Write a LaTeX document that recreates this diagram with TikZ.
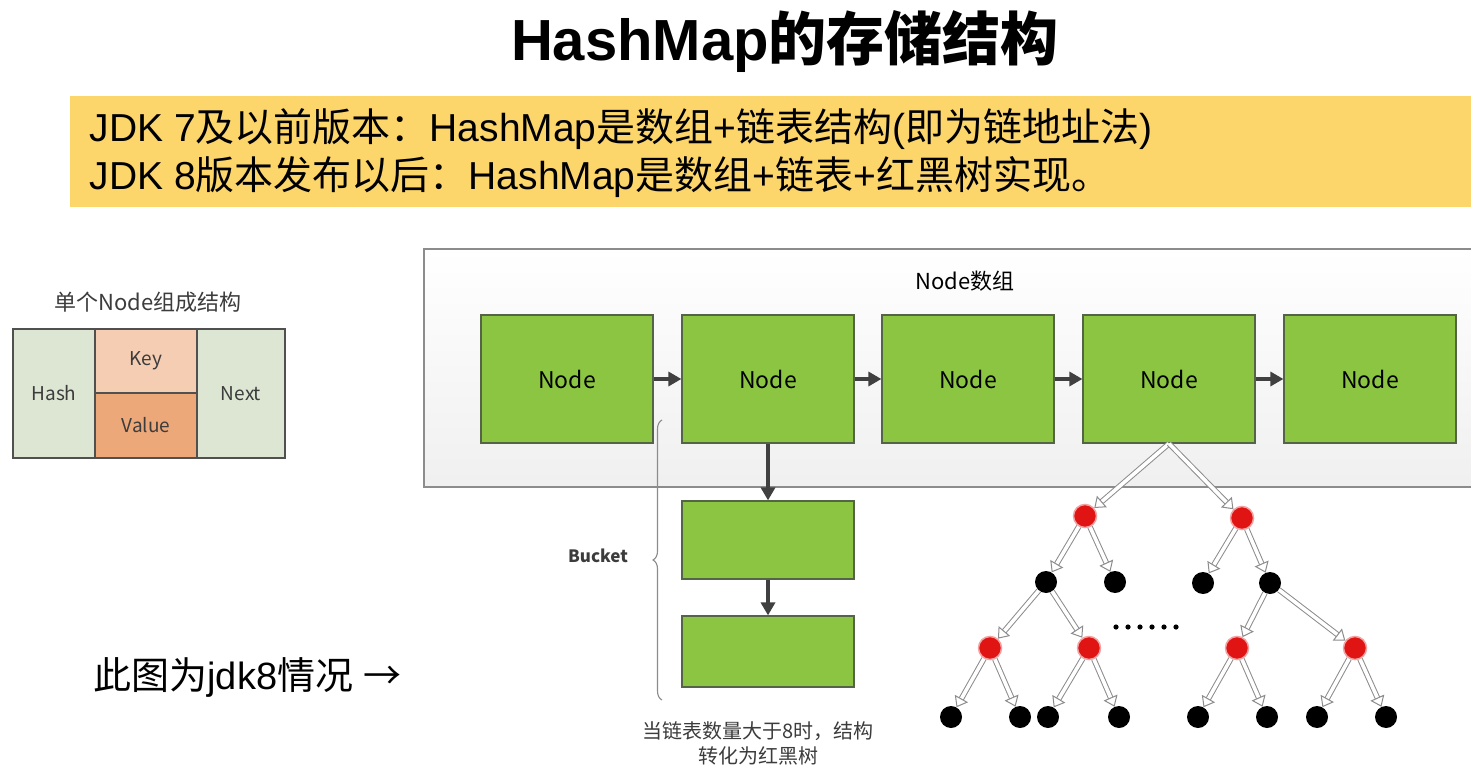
\documentclass[tikz,border=0pt]{standalone}
\usepackage{fontspec}
\setmainfont{Liberation Sans}
\newfontfamily\cjk{Noto Sans CJK SC}
\usepackage{tikz}
\usetikzlibrary{arrows.meta,positioning,calc,decorations.pathreplacing}

\definecolor{bannerYellow}{RGB}{252,214,106}
\definecolor{nodeGreen}{RGB}{139,197,65}
\definecolor{nodeBorder}{RGB}{85,100,70}
\definecolor{linkGray}{RGB}{64,64,64}
\definecolor{frameGray}{RGB}{140,140,140}
\definecolor{cellBorder}{RGB}{80,80,80}
\definecolor{hashFill}{RGB}{221,229,211}
\definecolor{keyFill}{RGB}{245,205,178}
\definecolor{valueFill}{RGB}{237,168,122}
\definecolor{treeRed}{RGB}{225,20,20}
\definecolor{edgeGray}{RGB}{140,140,140}
\definecolor{labelGray}{RGB}{60,60,60}

\begin{document}
\begin{tikzpicture}[x=1pt,y=-1pt,
	arraynode/.style={draw=nodeBorder, line width=1.2pt, fill=nodeGreen, minimum width=172pt, minimum height=128pt, inner sep=0pt, font=\cjk\fontsize{23}{23}\selectfont},
	link/.style={linkGray, line width=3.2pt, -{Triangle[length=13pt,width=14pt]}},
	cell/.style={draw=cellBorder, line width=1.2pt, inner sep=0pt, text=labelGray, font=\cjk\fontsize{19}{19}\selectfont},
	rednode/.style={circle, fill=treeRed, draw=treeRed!40!white, line width=1.5pt, minimum size=23pt, inner sep=0pt},
	blacknode/.style={circle, fill=black, minimum size=22pt, inner sep=0pt},
	treeedge/.style={draw=edgeGray, double=white, double distance=3.6pt, line width=1pt, -{Triangle[open,length=10pt,width=15pt,fill=white]}},
	]
	\fill[white] (0,0) rectangle (1471,783);
	\useasboundingbox (0,0) rectangle (1471,783);

	% heading and banner
	\node[font=\bfseries\fontsize{58}{58}\selectfont] (title) at (785,42) {HashMap{\cjk 的存储结构}};
	\fill[bannerYellow] (70,96) rectangle (1471,207);
	\node[anchor=base west, font=\fontsize{39}{39}\selectfont] (jdk7) at (86,142) {JDK 7{\cjk 及以前版本：}HashMap{\cjk 是数组}+{\cjk 链表结构}({\cjk 即为链地址法})};
	\node[anchor=base west, font=\fontsize{39}{39}\selectfont] (jdk8) at (86,190) {JDK 8{\cjk 版本发布以后：}HashMap{\cjk 是数组}+{\cjk 链表}+{\cjk 红黑树实现。}};

	% single node layout
	\node[font=\cjk\fontsize{22}{22}\selectfont, text=labelGray] (cellTitle) at (148,302) {单个Node组成结构};
	\node[cell, fill=hashFill, minimum width=82pt, minimum height=129pt] (hash) at (54,393.5) {Hash};
	\node[cell, fill=keyFill, minimum width=102pt, minimum height=64pt] (key) at (146,361) {Key};
	\node[cell, fill=valueFill, minimum width=102pt, minimum height=65pt] (value) at (146,425.5) {Value};
	\node[cell, fill=hashFill, minimum width=88pt, minimum height=129pt] (next) at (241,393.5) {Next};

	\node[anchor=west, font=\fontsize{38}{38}\selectfont] (jdkNote) at (90,677) {{\cjk 此图为}jdk8{\cjk 情况} {\cjk →}};

	% node array
	\shade[top color=white, bottom color=gray!12] (1471,249) -| (424,487) -- (1471,487);
	\draw[frameGray, line width=1.5pt] (1471,249) -| (424,487) -- (1471,487);
	\node[font=\cjk\fontsize{22}{22}\selectfont] (arrLabel) at (965,281) {Node数组};
	\foreach \i/\x in {1/567,2/768,3/968,4/1169,5/1370}
		\node[arraynode] (arr\i) at (\x,379) {Node};
	\foreach \i/\j in {1/2,2/3,3/4,4/5}
		\draw[link] (arr\i) -- (arr\j);

	% bucket
	\node[arraynode, minimum height=78pt] (bkt1) at (768,540) {};
	\node[arraynode, minimum height=71pt] (bkt2) at (768,651.5) {};
	\draw[link] (arr2) -- (bkt1);
	\draw[link] (bkt1) -- (bkt2);
	\draw[decorate, decoration={brace, amplitude=9pt}, frameGray, line width=1.1pt] (662,700) -- (662,420);
	\node[font=\cjk\bfseries\fontsize{17}{17}\selectfont, text=labelGray] (bucket) at (598,556) {Bucket};
	\node[font=\cjk\fontsize{20}{25}\selectfont, text=labelGray, align=center] (toTree) at (758,743) {当链表数量大于8时，结构\\转化为红黑树};

	% red-black tree
	\coordinate (treeRoot) at (arr4.south);
	\node[rednode] (r1) at (1085,516) {};
	\node[rednode] (r2) at (1242,518) {};
	\node[blacknode] (b1) at (1046,582) {};
	\node[blacknode] (b2) at (1115,582) {};
	\node[blacknode] (b3) at (1203,583) {};
	\node[blacknode] (b4) at (1270,583) {};
	\node[rednode] (r3) at (990,648) {};
	\node[rednode] (r4) at (1089,648) {};
	\node[rednode] (r5) at (1237,648) {};
	\node[rednode] (r6) at (1355,648) {};
	\foreach \n/\x in {1/951,2/1020,3/1048,4/1119,5/1198,6/1267,7/1317,8/1386}
		\node[blacknode] (leaf\n) at (\x,717) {};
	\foreach \a/\b in {treeRoot/r1,treeRoot/r2,r1/b1,r1/b2,r2/b3,r2/b4,b1/r3,b1/r4,b4/r5,b4/r6,
		r3/leaf1,r3/leaf2,r4/leaf3,r4/leaf4,r5/leaf5,r5/leaf6,r6/leaf7,r6/leaf8}
		\draw[treeedge] (\a) -- (\b);
	\foreach \k in {0,...,5}
		\fill (1116+\k*12,627) circle (2.6pt);
\end{tikzpicture}
\end{document}
